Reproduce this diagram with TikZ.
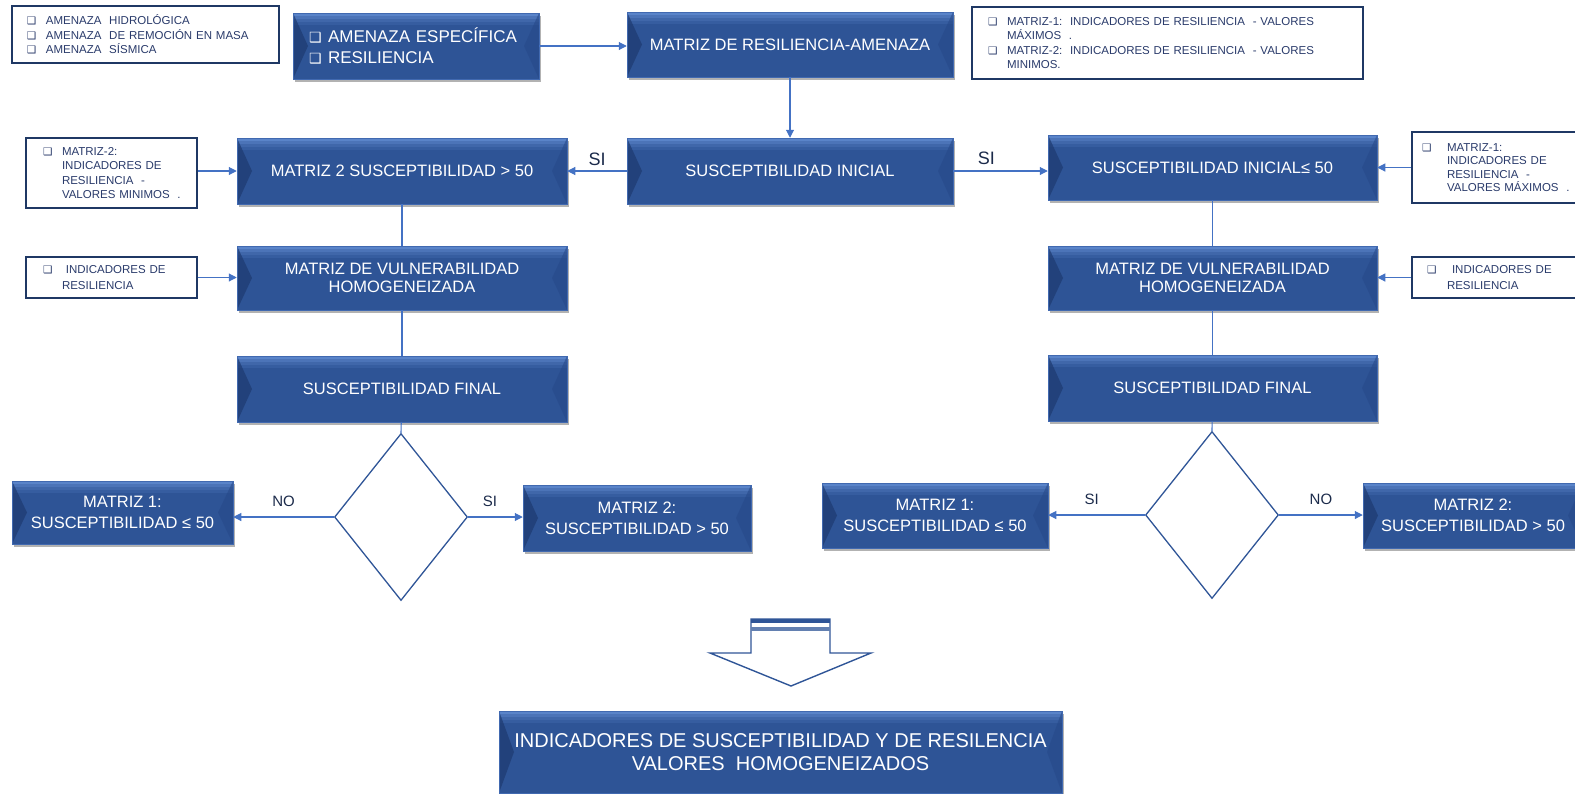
\documentclass[tikz,border=0pt]{standalone}
\usepackage{fontspec}
\setmainfont{Liberation Sans}
\newfontfamily\dejavu{DejaVu Sans}
\usetikzlibrary{arrows.meta,shapes.geometric,shadows}
\definecolor{bbase}{HTML}{2E5496}
\definecolor{bTop}{HTML}{6A95DB}
\definecolor{bevL}{HTML}{1E3A70}
\definecolor{bevR}{HTML}{27498A}
\definecolor{bEdge}{HTML}{4169B0}
\definecolor{connC}{HTML}{4472C4}
\definecolor{infoB}{HTML}{1F3864}
\definecolor{infoT}{HTML}{2A3B6B}
\definecolor{lblC}{HTML}{1B2A4A}
\definecolor{dmC}{HTML}{2F5597}
\newcommand{\fsz}[2]{\fontsize{#1}{#2}\selectfont}
\newcommand{\cb}{{\dejavu\fsz{10.5}{10.5}❑}}
\newcommand{\cbw}{{\dejavu\fsz{14}{14}❑}}
\newcommand{\cbl}[2][19pt]{\mbox{\makebox[#1][l]{\cb}#2}}
\newcommand{\indl}[2][19pt]{\mbox{\hspace*{#1}#2}}
\begin{document}
\begin{tikzpicture}[x=1pt,y=-1pt,
  bbox/.style={rectangle, draw=bEdge, line width=0.5pt, fill=bbase, text=white,
    align=center, inner sep=0pt, font=\fsz{16.5}{18.5},
    drop shadow={shadow xshift=2pt, shadow yshift=-3pt, opacity=0.3, fill=black},
    path picture={
      \fill[bTop, opacity=0.75] (path picture bounding box.north west) rectangle ([yshift=-3pt]path picture bounding box.north east);
      \fill[bTop, opacity=0.5] ([yshift=-3pt]path picture bounding box.north west) rectangle ([yshift=-6pt]path picture bounding box.north east);
      \fill[bTop, opacity=0.3] ([yshift=-6pt]path picture bounding box.north west) rectangle ([yshift=-9pt]path picture bounding box.north east);
      \fill[bTop, opacity=0.15] ([yshift=-9pt]path picture bounding box.north west) rectangle ([yshift=-12pt]path picture bounding box.north east);
      \fill[bevL, opacity=0.7] (path picture bounding box.north west) -- ([xshift=15pt]path picture bounding box.west) -- (path picture bounding box.south west) -- cycle;
      \fill[bevR, opacity=0.6] (path picture bounding box.north east) -- ([xshift=-15pt]path picture bounding box.east) -- (path picture bounding box.south east) -- cycle;
    }},
  info/.style={rectangle, draw=infoB, line width=1.6pt, fill=white, text=infoT,
    align=left, inner ysep=0pt, font=\fsz{11.5}{14.5}},
  conn/.style={draw=connC, line width=1.1pt, -{Triangle[length=8pt,width=8pt]}},
  plain/.style={draw=connC, line width=1.1pt},
  lbl/.style={text=lblC, font=\fsz{15}{15}, inner sep=1pt},
  lblbig/.style={text=lblC, font=\fsz{18}{18}, inner sep=1pt},
  diam/.style={diamond, draw=dmC, line width=1.3pt, minimum width=133pt, minimum height=167pt, inner sep=0pt}
]
\useasboundingbox (0,0) rectangle (1575,793);

% top row
\node[info, minimum width=267pt, minimum height=57pt, inner xsep=15pt, text width=237pt] (tlinfo) at (145.5,34.5)
 {\cbl{AMENAZA\ \ HIDROLÓGICA}\\ \cbl{AMENAZA\ \ DE REMOCIÓN EN MASA}\\ \cbl{AMENAZA\ \ SÍSMICA}};
\node[bbox, minimum width=246pt, minimum height=66pt, inner xsep=16pt, text width=214pt, align=left, font=\fsz{17}{21}] (amen) at (416,46)
 {\mbox{\makebox[19pt][l]{\cbw}AMENAZA ESPECÍFICA}\\ \mbox{\makebox[19pt][l]{\cbw}RESILIENCIA}};
\node[bbox, minimum width=326pt, minimum height=65pt] (mra) at (790,44.5) {MATRIZ DE RESILIENCIA-AMENAZA};
\node[info, minimum width=391pt, minimum height=72pt, inner xsep=16pt, text width=359pt, font=\fsz{11.5}{14.3}] (trinfo) at (1167.5,43)
 {\cbl{MATRIZ-1:\ \ INDICADORES DE RESILIENCIA\ \ - VALORES}\\ \indl{MÁXIMOS\ \ .}\\
  \cbl{MATRIZ-2:\ \ INDICADORES DE RESILIENCIA\ \ - VALORES}\\ \indl{MINIMOS.}};

% second row
\node[bbox, minimum width=326pt, minimum height=66pt] (sinic) at (790,171) {SUSCEPTIBILIDAD INICIAL};
\node[bbox, minimum width=330pt, minimum height=66pt] (m2s) at (402,171) {MATRIZ 2 SUSCEPTIBILIDAD > 50};
\node[bbox, minimum width=329pt, minimum height=65pt] (sinicR) at (1212.5,167.5) {SUSCEPTIBILIDAD INICIAL≤ 50};
\node[info, minimum width=171pt, minimum height=70pt, inner xsep=17pt, text width=137pt] (infoL1) at (111.5,173)
 {\cbl{MATRIZ-2:}\\ \indl{INDICADORES DE}\\ \indl{RESILIENCIA\ \ -}\\ \indl{VALORES MINIMOS\ \ .}};
\node[info, minimum width=166pt, minimum height=71pt, inner xsep=10pt, text width=146pt, font=\fsz{11.5}{13.2}] (infoR1) at (1495,167.5)
 {\cbl[25pt]{MATRIZ-1:}\\ \indl[25pt]{INDICADORES DE}\\ \indl[25pt]{RESILIENCIA\ \ -}\\ \indl[25pt]{VALORES MÁXIMOS\ \ .}};

% third row
\node[bbox, minimum width=330pt, minimum height=64pt] (vulL) at (402,278) {MATRIZ DE VULNERABILIDAD\\HOMOGENEIZADA};
\node[bbox, minimum width=329pt, minimum height=64pt] (vulR) at (1212.5,278) {MATRIZ DE VULNERABILIDAD\\HOMOGENEIZADA};
\node[info, minimum width=171pt, minimum height=41pt, inner xsep=17pt, text width=137pt, font=\fsz{11.5}{16}] (infoL2) at (111.5,277.5)
 {\cbl{\ INDICADORES DE}\\ \indl{RESILIENCIA}};
\node[info, minimum width=166pt, minimum height=41pt, inner xsep=15pt, text width=136pt, font=\fsz{11.5}{16}] (infoR2) at (1495,277.5)
 {\cbl[25pt]{INDICADORES DE}\\ \indl[20pt]{RESILIENCIA}};

% fourth row
\node[bbox, minimum width=330pt, minimum height=66pt] (sfL) at (402,389) {SUSCEPTIBILIDAD FINAL};
\node[bbox, minimum width=329pt, minimum height=66pt] (sfR) at (1212.5,388) {SUSCEPTIBILIDAD FINAL};

% decisions
\node[diam] (diamL) at (401,517) {};
\node[diam] (diamR) at (1212,515) {};
\node[bbox, minimum width=221pt, minimum height=63pt, font=\fsz{16.5}{21}] (m1L) at (122.5,512.5) {MATRIZ 1:\\SUSCEPTIBILIDAD ≤ 50};
\node[bbox, minimum width=228pt, minimum height=66pt, font=\fsz{16.5}{21}] (m2L) at (637,518) {MATRIZ 2:\\SUSCEPTIBILIDAD > 50};
\node[bbox, minimum width=226pt, minimum height=65pt, font=\fsz{16.5}{21}] (m1R) at (935,515.5) {MATRIZ 1:\\SUSCEPTIBILIDAD ≤ 50};
\node[bbox, minimum width=220pt, minimum height=65pt, font=\fsz{16.5}{21}] (m2R) at (1473,515.5) {MATRIZ 2:\\SUSCEPTIBILIDAD > 50};

% final
\node[bbox, minimum width=563pt, minimum height=82pt, font=\fsz{20}{22.5}] (fin) at (780.5,752)
 {INDICADORES DE SUSCEPTIBILIDAD Y DE RESILENCIA\\VALORES\ \ HOMOGENEIZADOS};

% connectors
\draw[conn] (amen.east) -- (amen.east -| mra.west);
\draw[conn] (mra) -- (sinic);
\draw[conn] (sinic.west) -- (m2s.east) node[lblbig, midway, above=4pt] {SI};
\draw[conn] (sinic.east) -- (sinic.east -| sinicR.west) node[lblbig, pos=0.35, above=5pt] {SI};
\draw[conn] (infoL1.east |- m2s.west) -- (m2s.west);
\draw[conn] (infoR1.west |- sinicR.east) -- (sinicR.east);
\draw[conn] (infoL2.east) -- (infoL2.east -| vulL.west);
\draw[conn] (infoR2.west) -- (infoR2.west -| vulR.east);
\draw[plain] (m2s) -- (vulL);
\draw[plain] (vulL) -- (sfL);
\draw[plain] (sfL) -- (diamL.north);
\draw[plain] (sinicR) -- (vulR);
\draw[plain] (vulR) -- (sfR);
\draw[plain] (sfR) -- (diamR.north);
\draw[conn] (diamL.west) -- (diamL.west -| m1L.east) node[lbl, midway, above=9pt] {NO};
\draw[conn] (diamL.east) -- (diamL.east -| m2L.west) node[lbl, pos=0.4, above=9pt] {SI};
\draw[conn] (diamR.west) -- (diamR.west -| m1R.east) node[lbl, pos=0.55, above=9pt] {SI};
\draw[conn] (diamR.east) -- (diamR.east -| m2R.west) node[lbl, midway, above=9pt] {NO};

% big down arrow
\draw[dmC, line width=1.4pt, line join=miter] (751,619) -- (751,653) -- (710,653) -- (791,686) -- (871,653) -- (830,653) -- (830,619) -- cycle;
\fill[dmC] (751,618.5) rectangle (830,623);
\fill[dmC!75] (751,627) rectangle (830,631);
\end{tikzpicture}
\end{document}
